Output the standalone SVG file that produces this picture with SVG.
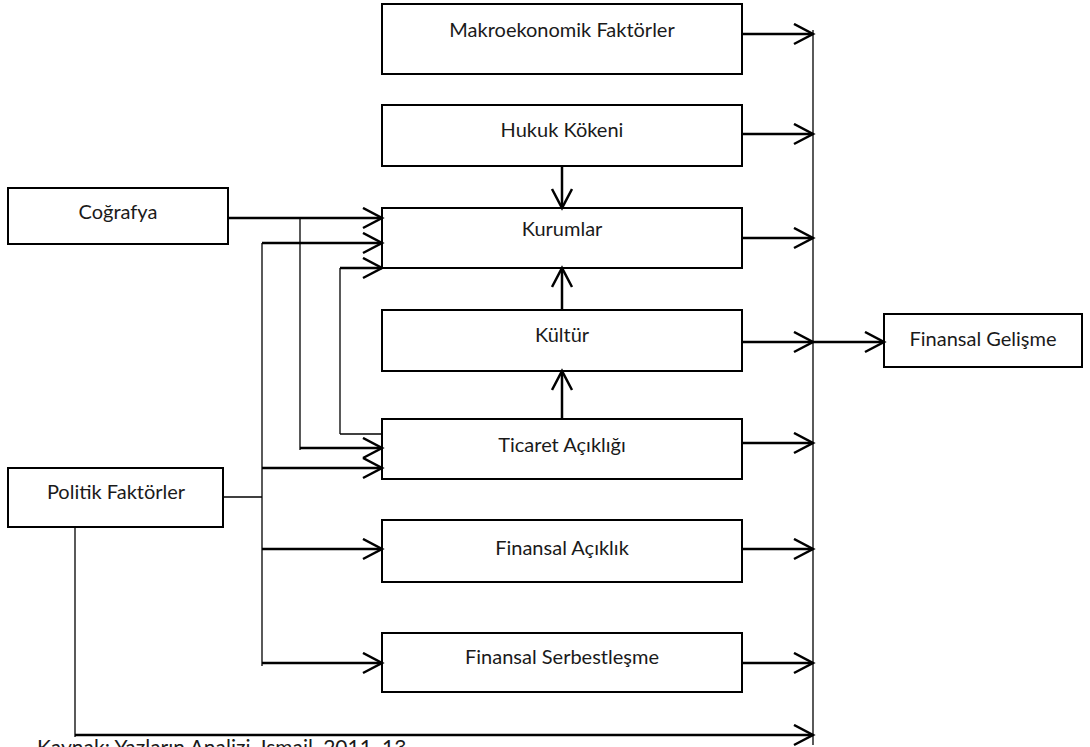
<svg xmlns="http://www.w3.org/2000/svg" width="1090" height="747" viewBox="0 0 1090 747">
<style>
.box{fill:#fff;stroke:#000;stroke-width:2}
.t{font-family:Lato,"Liberation Sans",sans-serif;font-size:20px;fill:#1a1a1a;text-anchor:middle}
.a{fill:none;stroke:#000;stroke-width:2.5;marker-end:url(#ah)}
.l{fill:none;stroke:#000;stroke-width:1.3}
</style>
<defs>
<marker id="ah" markerUnits="userSpaceOnUse" markerWidth="24" markerHeight="24" refX="20" refY="11" orient="auto" viewBox="0 0 24 24">
<path d="M1,1 L20,11 L1,21" fill="none" stroke="#000" stroke-width="2.5"/>
</marker>
</defs>
<rect width="1090" height="747" fill="#fff"/>
<g id="makro"><rect class="box" x="382" y="4" width="360" height="70"/><text class="t" x="562" y="37">Makroekonomik Faktörler</text></g>
<g id="hukuk"><rect class="box" x="382" y="105" width="360" height="61"/><text class="t" x="562" y="137">Hukuk Kökeni</text></g>
<g id="kurumlar"><rect class="box" x="382" y="208" width="360" height="60"/><text class="t" x="562" y="236">Kurumlar</text></g>
<g id="kultur"><rect class="box" x="382" y="310" width="360" height="61"/><text class="t" x="562" y="342">Kültür</text></g>
<g id="ticaret"><rect class="box" x="382" y="419" width="360" height="60"/><text class="t" x="562" y="452">Ticaret Açıklığı</text></g>
<g id="finacik"><rect class="box" x="382" y="520" width="360" height="62"/><text class="t" x="562" y="555">Finansal Açıklık</text></g>
<g id="finserb"><rect class="box" x="382" y="633" width="360" height="59"/><text class="t" x="562" y="664">Finansal Serbestleşme</text></g>
<g id="cografya"><rect class="box" x="8" y="188" width="220" height="56"/><text class="t" x="118" y="219">Coğrafya</text></g>
<g id="politik"><rect class="box" x="8" y="468" width="215" height="59"/><text class="t" x="116" y="499">Politik Faktörler</text></g>
<g id="fingel"><rect class="box" x="884" y="314" width="198" height="53"/><text class="t" x="983" y="346">Finansal Gelişme</text></g>
<g id="connectors">
<line class="l" x1="813" y1="30" x2="813" y2="745"/>
<line class="a" x1="742" y1="34" x2="813" y2="34"/>
<line class="a" x1="742" y1="134" x2="813" y2="134"/>
<line class="a" x1="742" y1="238" x2="813" y2="238"/>
<line class="a" x1="742" y1="342" x2="813" y2="342"/>
<line class="a" x1="742" y1="443" x2="813" y2="443"/>
<line class="a" x1="742" y1="549" x2="813" y2="549"/>
<line class="a" x1="742" y1="663" x2="813" y2="663"/>
<line class="a" x1="813" y1="342" x2="884" y2="342"/>
<line class="a" x1="562" y1="166" x2="562" y2="208"/>
<line class="a" x1="562" y1="310" x2="562" y2="268"/>
<line class="a" x1="562" y1="419" x2="562" y2="371"/>
<line class="a" x1="228" y1="218" x2="382" y2="218"/>
<line class="l" x1="300" y1="218" x2="300" y2="450"/>
<line class="a" x1="300" y1="448" x2="382" y2="448"/>
<line class="l" x1="223" y1="497" x2="262" y2="497"/>
<line class="l" x1="262" y1="243" x2="262" y2="666"/>
<line class="a" x1="262" y1="243" x2="382" y2="243"/>
<line class="a" x1="262" y1="468" x2="382" y2="468"/>
<line class="a" x1="262" y1="549" x2="382" y2="549"/>
<line class="a" x1="262" y1="663" x2="382" y2="663"/>
<line class="l" x1="382" y1="434" x2="340" y2="434"/>
<line class="l" x1="340" y1="434" x2="340" y2="268"/>
<line class="a" x1="340" y1="268" x2="382" y2="268"/>
<line class="l" x1="75" y1="527" x2="75" y2="737"/>
<line class="a" x1="75" y1="735" x2="813" y2="735"/>
</g>
<text x="37" y="755" font-family="Lato,'Liberation Sans',sans-serif" font-size="21" fill="#1a1a1a">Kaynak: Yazların Analizi, Ismail, 2011, 13</text>
</svg>
